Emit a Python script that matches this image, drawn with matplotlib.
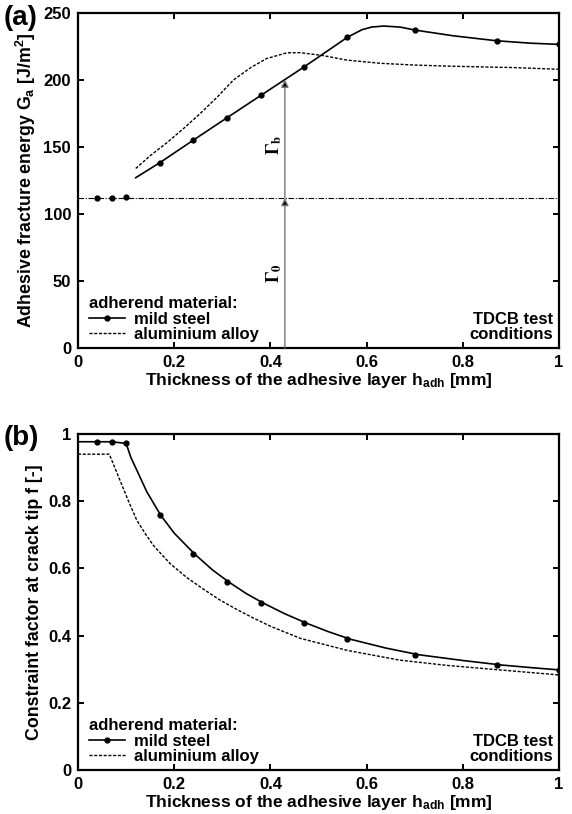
import matplotlib
matplotlib.use("Agg")
import matplotlib.pyplot as plt
from matplotlib.lines import Line2D

plt.rcParams['font.family'] = ['Liberation Sans', 'DejaVu Sans']
plt.rcParams['font.weight'] = 'bold'
plt.rcParams['axes.labelweight'] = 'bold'
plt.rcParams['mathtext.fontset'] = 'custom'
plt.rcParams['mathtext.rm'] = 'Liberation Sans:bold'
plt.rcParams['mathtext.it'] = 'Liberation Sans:bold'
plt.rcParams['mathtext.bf'] = 'Liberation Sans:bold'

# --- data ---
# marker positions (thickness in mm), shared by both panels
h_pts = [0.04, 0.07, 0.10, 0.17, 0.24, 0.31, 0.38, 0.47, 0.56, 0.70, 0.87, 1.0]

# (a) adhesive fracture energy, mild steel markers
G_steel_pts = [111.7, 111.7, 112.9, 138.3, 155.2, 171.9, 188.5, 209.8, 231.9, 237.3, 229.3, 226.6]
# (a) mild steel curve
h_steel_a = [0.12, 0.17, 0.24, 0.31, 0.38, 0.47, 0.56, 0.59, 0.61, 0.635, 0.67, 0.70, 0.78, 0.87, 0.94, 1.0]
G_steel_a = [127.1, 138.3, 155.2, 171.9, 188.5, 209.8, 231.9, 237.5, 239.5, 240.3, 239.5, 237.3, 233.0, 229.3, 227.5, 226.6]
# (a) aluminium alloy curve
h_alu_a = [0.12, 0.15, 0.184, 0.22, 0.254, 0.29, 0.323, 0.36, 0.392, 0.434, 0.462, 0.507, 0.558, 0.628, 0.697, 0.766, 0.836, 0.905, 1.0]
G_alu_a = [134.0, 143.5, 153.0, 164.0, 175.0, 187.5, 200.0, 209.5, 216.0, 220.3, 220.4, 218.4, 214.9, 212.5, 211.2, 210.4, 209.8, 209.3, 208.0]
gamma0 = 112.0
gamma_b_top = 200.3
arrow_h = 0.43

# (b) constraint factor, mild steel markers
f_steel_pts = [0.977, 0.977, 0.972, 0.758, 0.642, 0.559, 0.497, 0.437, 0.389, 0.343, 0.3125, 0.298]
# (b) mild steel curve
h_steel_b = [0.0, 0.04, 0.07, 0.10, 0.11, 0.122, 0.143, 0.172, 0.20, 0.243, 0.28, 0.314, 0.35, 0.385, 0.43, 0.475, 0.52, 0.567, 0.64, 0.709, 0.80, 0.881, 0.94, 1.0]
f_steel_b = [0.977, 0.977, 0.977, 0.972, 0.930, 0.893, 0.828, 0.758, 0.705, 0.642, 0.595, 0.559, 0.525, 0.497, 0.465, 0.437, 0.412, 0.389, 0.363, 0.343, 0.326, 0.3125, 0.305, 0.298]
# (b) aluminium alloy curve
h_alu_b = [0.0, 0.065, 0.087, 0.105, 0.122, 0.14, 0.157, 0.191, 0.226, 0.261, 0.295, 0.330, 0.365, 0.40, 0.462, 0.56, 0.669, 0.77, 0.877, 1.0]
f_alu_b = [0.940, 0.940, 0.863, 0.800, 0.744, 0.703, 0.668, 0.615, 0.573, 0.538, 0.506, 0.478, 0.452, 0.428, 0.392, 0.356, 0.327, 0.311, 0.298, 0.283]

xticks = [0, 0.2, 0.4, 0.6, 0.8, 1]
xticklabels = ['0', '0.2', '0.4', '0.6', '0.8', '1']

fig = plt.figure(figsize=(5.72, 8.14), dpi=100)
ax1 = fig.add_axes([0.1364, 0.5725, 0.841, 0.4115])
ax2 = fig.add_axes([0.1364, 0.054, 0.841, 0.4128])


def style_axes(ax):
    for sp in ax.spines.values():
        sp.set_linewidth(1.6)
    ax.tick_params(direction='in', top=True, right=True, length=4, width=1.4,
                   labelsize=12, pad=5)
    ax.set_xlim(0, 1)
    ax.set_xticks(xticks)
    ax.set_xticklabels(xticklabels)
    ax.set_xlabel('Thickness of the adhesive layer h$_\\mathregular{adh}$ [mm]',
                  fontsize=12.5, labelpad=1)


def add_legend(ax):
    handles = [Line2D([], [], color='k', lw=1.2, marker='o', markersize=3.5),
               Line2D([], [], color='k', lw=1.0, dashes=(2.2, 1.2))]
    ax.legend(handles, ['mild steel', 'aluminium alloy'], loc='lower left',
              bbox_to_anchor=(0.015, 0.008),
              title='adherend material:', frameon=False, fontsize=12,
              title_fontproperties={'weight': 'bold', 'size': 12},
              alignment='left', handlelength=2.2, handletextpad=0.5,
              labelspacing=0.02, borderaxespad=0.0, borderpad=0.2)
    ax.text(0.987, 0.018, 'TDCB test\nconditions', transform=ax.transAxes,
            ha='right', va='bottom', fontsize=12, linespacing=1.0)


# ---------- (a) ----------
style_axes(ax1)
ax1.set_ylim(0, 250)
ax1.set_yticks([0, 50, 100, 150, 200, 250])
ax1.axhline(gamma0, color='k', lw=0.8, dashes=(5, 1.5, 1, 1.5))
ax1.plot(h_steel_a, G_steel_a, color='k', lw=1.2)
ax1.plot(h_pts, G_steel_pts, 'o', color='k', markersize=3.5)
ax1.plot(h_alu_a, G_alu_a, color='k', lw=1.0, dashes=(2.2, 1.2))
ax1.annotate('', xy=(arrow_h, gamma0), xytext=(arrow_h, 0),
             arrowprops=dict(arrowstyle='-|>', lw=1.0, ec='0.45', fc='k',
                             mutation_scale=11, shrinkA=0, shrinkB=0))
ax1.annotate('', xy=(arrow_h, gamma_b_top), xytext=(arrow_h, gamma0),
             arrowprops=dict(arrowstyle='-|>', lw=1.0, ec='0.45', fc='k',
                             mutation_scale=11, shrinkA=0, shrinkB=0))
ax1.text(arrow_h - 0.022, gamma0 / 2, r'$\mathrm{\Gamma_0}$', rotation=90,
         ha='center', va='center', fontsize=13, fontweight='normal',
         math_fontfamily='stix')
ax1.text(arrow_h - 0.022, (gamma0 + gamma_b_top) / 2 - 5, r'$\mathrm{\Gamma_b}$', rotation=90,
         ha='center', va='center', fontsize=13, fontweight='normal',
         math_fontfamily='stix')
ax1.set_ylabel('Adhesive fracture energy G$_\\mathregular{a}$ [J/m$^\\mathregular{2}$]',
               fontsize=12.8, labelpad=4)
add_legend(ax1)
fig.text(0.006, 0.994, '(a)', fontsize=20, fontweight='bold', va='top', ha='left')

# ---------- (b) ----------
style_axes(ax2)
ax2.set_ylim(0, 1)
ax2.set_yticks([0, 0.2, 0.4, 0.6, 0.8, 1])
ax2.set_yticklabels(['0', '0.2', '0.4', '0.6', '0.8', '1'])
ax2.plot(h_steel_b, f_steel_b, color='k', lw=1.2)
ax2.plot(h_pts, f_steel_pts, 'o', color='k', markersize=3.5)
ax2.plot(h_alu_b, f_alu_b, color='k', lw=1.0, dashes=(2.2, 1.2))
ax2.set_ylabel('Constraint factor at crack tip f [-]', fontsize=12.8, labelpad=4)
add_legend(ax2)
fig.text(0.006, 0.478, '(b)', fontsize=20, fontweight='bold', va='top', ha='left')

fig.savefig('out.png', dpi=100)
